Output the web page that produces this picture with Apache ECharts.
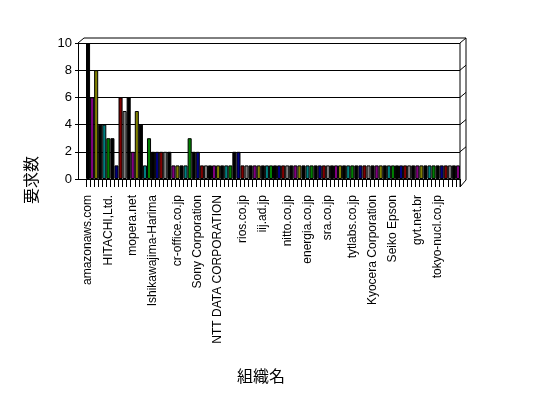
<!DOCTYPE html>
<html><head><meta charset="utf-8">
<script src="https://cdn.jsdelivr.net/npm/echarts@6/dist/echarts.min.js"></script>
<style>html,body{margin:0;padding:0;background:#fff}#c{width:548px;height:398px}</style>
</head><body><div id="c"></div>
<script>
// ---- data ----
const labelNames = ['amazonaws.com','HITACHI,Ltd.','mopera.net','Ishikawajima-Harima','cr-office.co.jp','Sony Corporation','NTT DATA CORPORATION','rios.co.jp','iij.ad.jp','nitto.co.jp','energia.co.jp','sra.co.jp','tytlabs.co.jp','Kyocera Corporation','Seiko Epson','gvt.net.br','tokyo-nucl.co.jp'];
const labelIndex = [0,5,11,16,22,27,32,38,43,49,54,59,65,70,75,81,86];
const values = [10,6,8,4,4,3,3,1,6,5,6,2,5,4,1,3,2,2,2,2,2,1,1,1,1,
  3,2,2,1,1,1,1,1,1,1,1,2,2,
  1,1,1,1,1,1,1,1,1,1,1,1,1,1,1,1,1,1,1,1,1,1,1,1,1,1,1,1,1,1,1,1,1,1,1,1,1,1,1,1,1,1,1,1,1,1,1,1,1,1,1,1,1,1];
const yTicks = [0,2,4,6,8,10];
const palette = ['#000000','#800080','#808000','#000000','#008080','#008000','#000000','#000080','#800000','#808080'];
const yTitle = '要求数';
const xTitle = '組織名';
const categories = values.map((v,i)=>{const k=labelIndex.indexOf(i);return k>=0?labelNames[k]:'';});

// ---- layout ----
const W=548,H=398, FL=78, PL=86, PR=460, TOP=43, BOT=179, FLOOR=187, DX=6, DY=5;
const yMax = yTicks[yTicks.length-1];
const chart = echarts.init(document.getElementById('c'), null, {renderer:'canvas'});
const lineStyle = {stroke:'#000', lineWidth:1};
const g = [];
g.push({type:'polyline', shape:{points:[[FL,TOP],[FL+DX,TOP-DY],[PR+DX,TOP-DY],[PR+DX,FLOOR-DY-2],[PR,FLOOR]]}, style:Object.assign({fill:null},lineStyle), silent:true});
g.push({type:'line', shape:{x1:PR,y1:TOP,x2:PR,y2:FLOOR}, style:lineStyle, silent:true});
yTicks.forEach(v=>{ const y = BOT - v*(BOT-TOP)/yMax; if(v>0) g.push({type:'line', shape:{x1:PR,y1:y,x2:PR+DX,y2:y-DY}, style:lineStyle, silent:true}); });
g.push({type:'text', x:31, y:180, rotation:Math.PI/2, style:{text:yTitle, font:'16px "Noto Sans CJK JP"', fill:'#000', align:'center', verticalAlign:'middle'}});
g.push({type:'text', x:261, y:376, style:{text:xTitle, font:'16px "Noto Sans CJK JP"', fill:'#000', align:'center', verticalAlign:'middle'}});

chart.setOption({
  animation:false,
  backgroundColor:'#fff',
  grid:[
    {left:PL, right:W-PR, top:TOP, bottom:H-BOT},
    {left:FL, right:W-PR, top:TOP, bottom:H-BOT}
  ],
  xAxis:[
    {type:'category', gridIndex:0, data:categories,
      axisLine:{show:true, lineStyle:{color:'#000', width:1}},
      axisTick:{show:true, interval:0, length:8, lineStyle:{color:'#000'}},
      axisLabel:{interval:0, rotate:90, margin:16, color:'#000', fontSize:12, fontFamily:'Liberation Sans, Arial'}},
    {type:'category', gridIndex:1, data:[''], offset:FLOOR-BOT,
      axisLine:{show:true, lineStyle:{color:'#000', width:1}}, axisTick:{show:false}, axisLabel:{show:false}}
  ],
  yAxis:[
    {type:'value', gridIndex:0, min:0, max:yMax, show:false, splitLine:{show:false}},
    {type:'value', gridIndex:1, min:0, max:yMax, interval:2,
      axisLine:{show:true, lineStyle:{color:'#000'}},
      axisTick:{show:true, length:3, lineStyle:{color:'#000'}},
      axisLabel:{color:'#000', fontSize:13, margin:6, fontFamily:'Liberation Sans, Arial'},
      splitLine:{show:true, lineStyle:{color:'#000', width:1}}}
  ],
  series:[{type:'bar', xAxisIndex:0, yAxisIndex:0, data:values, barCategoryGap:'0%',
    itemStyle:{color:(p)=>palette[p.dataIndex%palette.length], borderColor:'#000', borderWidth:1}}],
  graphic:g
});
</script></body></html>
